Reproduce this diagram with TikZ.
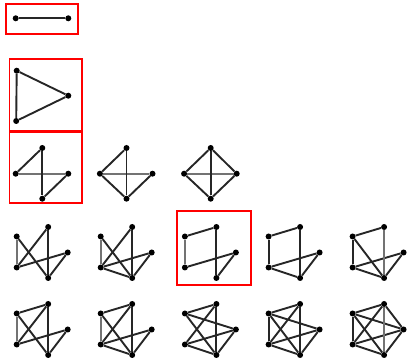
\documentclass[tikz,border=0pt]{standalone}
\begin{document}
\begin{tikzpicture}[x=1pt,y=-1pt,
  v/.style={circle,fill=black,inner sep=0pt,minimum size=6pt},
  e/.style={line width=1.9pt,black!85},
  eg/.style={line width=2.2pt,black!55},
  hl/.style={draw=red,line width=1.5pt}]
\useasboundingbox (0,0) rectangle (408,363);
% row 1
\node[v] (a1) at (15.7,18.3) {};
\node[v] (a2) at (68.3,18.3) {};
\draw[e] (a1) -- (a2);
\draw[hl] (6,4) rectangle (78,34);
% row 2
\node[v] (t1) at (16.7,70.7) {};
\node[v] (t2) at (68.3,95.7) {};
\node[v] (t3) at (16.2,121) {};
\draw[e] (t1) -- (t3);
\draw[e] (t1) -- (t2) -- (t3);
\draw[hl] (9.5,59) rectangle (82,131);
\draw[hl] (9.5,132.5) rectangle (82,203);
% row 3
\foreach \c/\x in {1/15.7,2/99.9,3/184.1}{
  \node[v] (k\c L) at (\x,173.7) {};
  \node[v] (k\c T) at (\x+26.6,148) {};
  \node[v] (k\c R) at (\x+52.6,173.7) {};
  \node[v] (k\c B) at (\x+26.6,198.7) {};
}
\foreach \c in {1,2,3}{
  \draw[eg] (k\c L) -- (k\c R);
  \draw[e] (k\c T) -- (k\c L);
  \draw[e] (k\c T) -- (k\c B);
  \draw[e] (k\c R) -- (k\c B);
}
\draw[e] (k2L) -- (k2B);
\draw[e] (k3L) -- (k3B);
\draw[e] (k3T) -- (k3R);
% rows 4 and 5
\foreach \r/\y in {4/236.5,5/313.5}{
  \foreach \c/\x in {1/16.7,2/100.7,3/184.9,4/268.6,5/352.6}{
    \node[v] (r\r c\c A) at (\x,\y) {};
    \node[v] (r\r c\c B) at (\x+31.5,\y-9.5) {};
    \node[v] (r\r c\c C) at (\x+51,\y+16) {};
    \node[v] (r\r c\c D) at (\x,\y+31) {};
    \node[v] (r\r c\c E) at (\x+31.5,\y+41.5) {};
  }
}
% row 4
\foreach \u/\w in {A/E,B/D,B/E,C/D,C/E}{\draw[e] (r4c1\u) -- (r4c1\w);}
\draw[eg] (r4c1A) -- (r4c1D);
\foreach \u/\w in {A/E,B/D,B/E,C/D,C/E,D/E}{\draw[e] (r4c2\u) -- (r4c2\w);}
\draw[eg] (r4c2A) -- (r4c2D);
\foreach \u/\w in {A/B,B/E,C/D,C/E}{\draw[e] (r4c3\u) -- (r4c3\w);}
\draw[eg,line width=2.4pt] (r4c3A) -- (r4c3D);
\foreach \u/\w in {A/D,A/B,B/E,C/D,C/E,D/E}{\draw[e] (r4c4\u) -- (r4c4\w);}
\foreach \u/\w in {A/D,A/B,A/E,C/D,C/E,D/E}{\draw[e] (r4c5\u) -- (r4c5\w);}
\draw[eg] (r4c5B) -- (r4c5E);
\draw[hl] (177,211) rectangle (251,285);
% row 5
\foreach \u/\w in {A/B,A/E,B/D,B/E,C/D,C/E}{\draw[e] (r5c1\u) -- (r5c1\w);}
\draw[eg] (r5c1A) -- (r5c1D);
\foreach \u/\w in {A/B,A/E,B/D,B/E,C/D,C/E,D/E}{\draw[e] (r5c2\u) -- (r5c2\w);}
\draw[eg] (r5c2A) -- (r5c2D);
\foreach \u/\w in {A/B,A/C,A/E,B/D,B/E,C/D,C/E,D/E}{\draw[e] (r5c3\u) -- (r5c3\w);}
\foreach \u/\w in {A/B,A/C,A/D,A/E,B/D,B/E,C/D,C/E,D/E}{\draw[e] (r5c4\u) -- (r5c4\w);}
\foreach \u/\w in {A/B,A/C,A/D,A/E,B/C,B/D,C/D,C/E,D/E}{\draw[e] (r5c5\u) -- (r5c5\w);}
\draw[eg] (r5c5B) -- (r5c5E);
\end{tikzpicture}
\end{document}
